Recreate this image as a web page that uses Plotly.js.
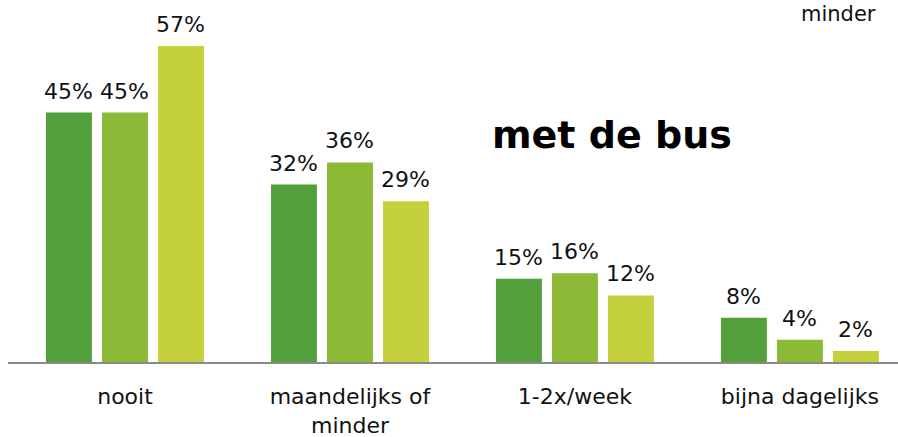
<!DOCTYPE html>
<html>
<head>
<meta charset="utf-8">
<script src="https://cdn.plot.ly/plotly-3.0.1.min.js"></script>
<style>
  html, body { margin: 0; padding: 0; background: #fff; }
  #chart { width: 898px; height: 437px; }
</style>
</head>
<body>
<div id="chart"></div>
<script>
// categories and the three series (percentages)
const categories = ['nooit', 'maandelijks of<br>minder', '1-2x/week', 'bijna dagelijks'];
const serie1 = [45, 32, 15, 8];
const serie2 = [45, 36, 16, 4];
const serie3 = [57, 29, 12, 2];

const kleuren = ['#539f3b', '#8cb936', '#c4d13c'];
const series = [serie1, serie2, serie3];

var traces = series.map((vals, i) => ({
    type: 'bar',
    x: categories,
    y: vals,
    marker: { color: kleuren[i] },
    hoverinfo: 'none'
}));

// value labels above the bars (a bit more room than bar text gives)
var slot = 56; // px per bar within a group
var labels = [];
series.forEach((vals, i) => {
    vals.forEach((v, j) => {
        labels.push({
            text: v + '%',
            x: categories[j], y: v,
            xref: 'x', yref: 'y',
            xshift: (i - 1) * slot,
            yshift: 7,
            xanchor: 'center', yanchor: 'bottom',
            showarrow: false,
            font: { size: 22, color: '#111' }
        });
    });
});

var layout = {
    width: 898,
    height: 437,
    showlegend: false,
    paper_bgcolor: '#fff',
    plot_bgcolor: '#fff',
    font: { family: '"DejaVu Sans", sans-serif', color: '#111' },
    margin: { l: 8, r: 0, t: 0, b: 75, pad: 0 },
    bargap: 0.253,
    bargroupgap: 0.18,
    xaxis: {
        type: 'category',
        range: [-0.52, 3.436],
        showgrid: false,
        zeroline: false,
        showline: true,
        linecolor: '#8a8a8a',
        linewidth: 2,
        ticks: 'outside',
        ticklen: 14,
        tickcolor: 'rgba(0,0,0,0)',
        tickfont: { size: 22, color: '#111' }
    },
    yaxis: {
        range: [0, 65.3],
        visible: false,
        showgrid: false,
        zeroline: false
    },
    annotations: labels.concat([
        {
            text: '<b>met de bus</b>',
            xref: 'paper', yref: 'paper',
            x: 0.679, y: 0.627,
            xanchor: 'center', yanchor: 'middle',
            showarrow: false,
            font: { size: 38, color: '#000' }
        },
        {
            text: 'minder',
            xref: 'paper', yref: 'paper',
            x: 0.933, y: 1.0,
            xanchor: 'center', yanchor: 'top',
            showarrow: false,
            font: { size: 21, color: '#111' }
        }
    ])
};

Plotly.newPlot('chart', traces, layout, { displayModeBar: false, staticPlot: true });
</script>
</body>
</html>
